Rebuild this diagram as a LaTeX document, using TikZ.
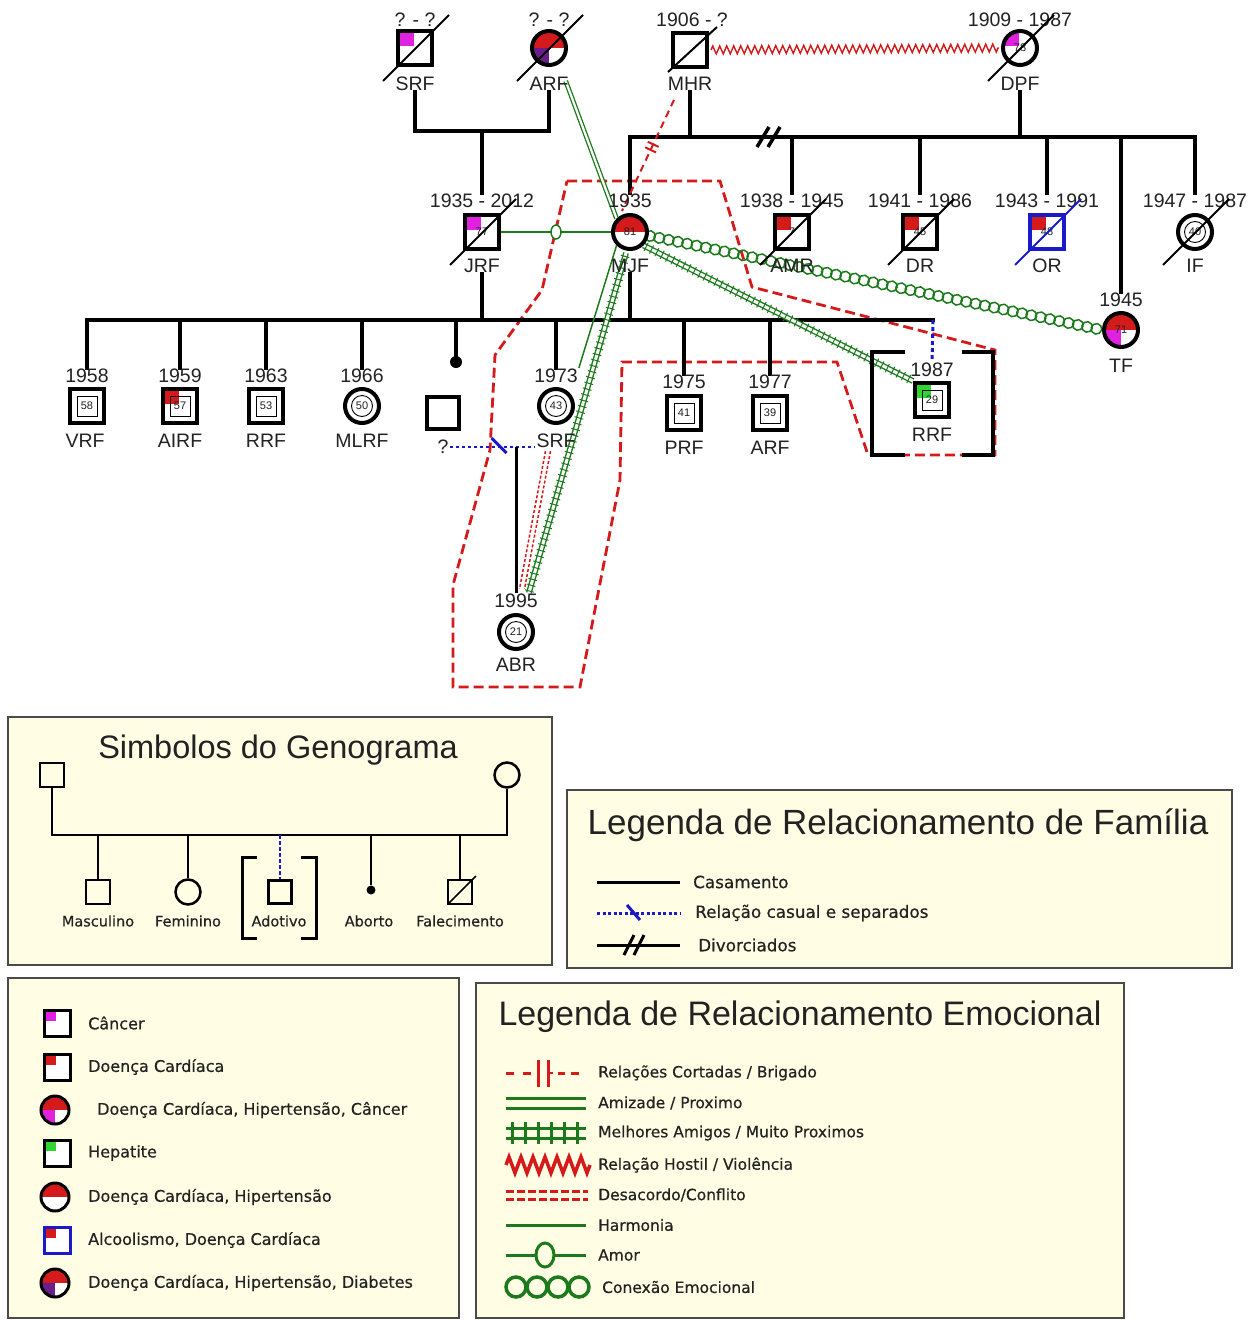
\documentclass[tikz,border=0pt]{standalone}
\usepackage{fontspec}
\setmainfont{Liberation Sans}
\newfontfamily\legfont[FakeBold=0.5]{DejaVu Sans}
\usetikzlibrary{decorations.pathmorphing,decorations.markings,calc,backgrounds}
\definecolor{gr}{HTML}{1C7A1C}
\definecolor{rd}{HTML}{D41A1A}
\definecolor{bl}{HTML}{1A1AC8}
\definecolor{mg}{HTML}{E022E0}
\definecolor{pu}{HTML}{6A1E8C}
\definecolor{hepc}{HTML}{2FD62F}
\definecolor{cream}{HTML}{FFFDE4}
\definecolor{bord}{HTML}{4A4A4A}
\definecolor{txt}{HTML}{222222}
\newcommand\myFr[1]{\draw[line width=0.9pt] ($(#1)+(-10,-10)$) rectangle ($(#1)+(10,10)$);}
\newcommand\myCf[1]{\draw[line width=0.9pt] (#1) circle (10.5pt);}
\newcommand\mySl[2][black]{\draw[#1,line width=2pt] ($(#2)+(-32,33)$) -- ($(#2)+(34,-33)$);}
\begin{document}
\begin{tikzpicture}[x=1pt,y=-1pt,
  every node/.style={text=txt},
  sq/.style={draw=black,fill=white,rectangle,line width=4pt,minimum size=34pt,inner sep=0pt,font=\fontsize{11}{11}\selectfont},
  ci/.style={draw=black,fill=white,circle,line width=4pt,minimum size=34pt,inner sep=0pt,font=\fontsize{11}{11}\selectfont},
  lab/.style={font=\fontsize{19.5}{20}\selectfont,inner sep=1pt},
  gline/.style={line width=4pt,line cap=rect},
  ppc/.style={path picture={\fill[#1] (path picture bounding box.north west) rectangle ++(16pt,-15pt);}},
  lpc/.style={path picture={\fill[#1] (path picture bounding box.north west) rectangle ++(12pt,-11pt);}},
  half/.style={path picture={\fill[rd] (path picture bounding box.north west) rectangle (path picture bounding box.east);}},
  trip/.style={path picture={\fill[rd] (path picture bounding box.north west) rectangle (path picture bounding box.east);\fill[#1] (path picture bounding box.west) rectangle (path picture bounding box.south);}},
  hostile/.style={draw=rd,line width=1.4pt,decorate,decoration={zigzag,amplitude=4pt,segment length=7pt}},
  cutl/.style={draw=rd,line width=2pt,dash pattern=on 7pt off 5pt},
  amiz/.style={draw=gr,double=white,double distance=2.2pt,line width=1.3pt},
  harm/.style={draw=gr,line width=1.5pt},
  best/.style={draw=gr,double=white,double distance=3pt,line width=1.4pt,postaction={decorate,decoration={markings,mark=between positions 0.01 and 1 step 6pt with {\draw[gr,line width=1pt,solid] (0pt,-4.5pt) -- (0pt,4.5pt);}}}},
  conn/.style={postaction={decorate,decoration={markings,mark=between positions 0 and 1 step 9.5pt with {\draw[gr,line width=1.5pt,solid] (0pt,0pt) circle (5.3pt);}}}},
  desac/.style={draw=rd,line width=1.5pt,dash pattern=on 3pt off 2pt},
  house/.style={draw=rd,line width=2.8pt,dash pattern=on 10pt off 5pt},
  casual/.style={draw=bl,line width=2.5pt,dash pattern=on 3pt off 3pt},
  legbox/.style={draw=bord,fill=cream,line width=2pt},
  lsq/.style={draw=black,rectangle,line width=3pt,minimum size=26pt,inner sep=0pt,fill=white},
  lci/.style={draw=black,circle,line width=3pt,minimum size=28pt,inner sep=0pt,fill=white},
  lsym/.style={draw=black,line width=2.5pt,minimum size=24pt,inner sep=0pt},
  ltx/.style={font=\legfont\fontsize{16}{18}\selectfont,anchor=west,inner sep=0pt},
  etx/.style={font=\legfont\fontsize{15.5}{17}\selectfont,anchor=west,inner sep=0pt},
  ftx/.style={font=\legfont\fontsize{16.8}{18}\selectfont,anchor=west,inner sep=0pt},
  stx/.style={font=\legfont\fontsize{14.5}{16}\selectfont,inner sep=0pt},
]
\useasboundingbox (0,0) rectangle (1255,1320);

% ================= persons: first generation
\node[sq,ppc=mg] (SRF) at (415,48) {};
\node[lab] (SRF-y) at (415,20) {? - ?};
\node[lab] (SRF-n) at (415,84) {SRF};
\node[ci,trip=pu] (ARF) at (549,48) {};
\node[lab] (ARF-y) at (549,20) {? - ?};
\node[lab] (ARF-n) at (549,84) {ARF};
\node[sq] (MHR) at (690,50) {};
\node[lab] (MHR-y) at (692,20) {1906 - ?};
\node[lab] (MHR-n) at (690,84) {MHR};
\node[ci,ppc=mg] (DPF) at (1020,48) {78};
\node[lab] (DPF-y) at (1020,20) {1909 - 1987};
\node[lab] (DPF-n) at (1020,84) {DPF};
\mySl{SRF} \mySl{ARF} \mySl{DPF}
\draw[line width=2pt] ($(MHR)+(-22,22)$) -- ($(MHR)+(27,-23)$);

% ================= second generation
\node[sq,ppc=mg] (JRF) at (482,232) {77};
\node[lab] (JRF-y) at (482,201) {1935 - 2012};
\node[lab] (JRF-n) at (482,266) {JRF};
\node[ci,half] (MJF) at (630,232) {81};
\node[lab] (MJF-y) at (630,201) {1935};
\node[lab] (MJF-n) at (630,266) {MJF};
\node[sq,ppc=rd] (AMR) at (792,232) {7};
\node[lab] (AMR-y) at (792,201) {1938 - 1945};
\node[lab] (AMR-n) at (792,266) {AMR};
\node[sq,ppc=rd] (DR) at (920,232) {45};
\node[lab] (DR-y) at (920,201) {1941 - 1986};
\node[lab] (DR-n) at (920,266) {DR};
\node[sq,ppc=rd,draw=bl] (OR) at (1047,232) {48};
\node[lab] (OR-y) at (1047,201) {1943 - 1991};
\node[lab] (OR-n) at (1047,266) {OR};
\node[ci] (IF) at (1195,232) {40};
\node[lab] (IF-y) at (1195,201) {1947 - 1987};
\node[lab] (IF-n) at (1195,266) {IF};
\node[ci,trip=mg] (TF) at (1121,330) {71};
\node[lab] (TF-y) at (1121,300) {1945};
\node[lab] (TF-n) at (1121,366) {TF};
\myCf{IF}
\mySl{JRF} \mySl{AMR} \mySl{DR} \mySl[bl]{OR} \mySl{IF}

% ================= third generation
\node[sq] (VRF) at (87,406) {58};
\node[lab] (VRF-y) at (87,376) {1958};
\node[lab] (VRF-n) at (85,441) {VRF};
\node[sq,ppc=rd] (AIRF) at (180,406) {57};
\node[lab] (AIRF-y) at (180,376) {1959};
\node[lab] (AIRF-n) at (180,441) {AIRF};
\node[sq] (RRF) at (266,406) {53};
\node[lab] (RRF-y) at (266,376) {1963};
\node[lab] (RRF-n) at (266,441) {RRF};
\node[ci] (MLRF) at (362,406) {50};
\node[lab] (MLRF-y) at (362,376) {1966};
\node[lab] (MLRF-n) at (362,441) {MLRF};
\node[ci] (SRF2) at (556,406) {43};
\node[lab] (SRF2-y) at (556,376) {1973};
\node[lab] (SRF2-n) at (556,441) {SRF};
\node[sq] (PRF) at (684,413) {41};
\node[lab] (PRF-y) at (684,382) {1975};
\node[lab] (PRF-n) at (684,448) {PRF};
\node[sq] (ARF2) at (770,413) {39};
\node[lab] (ARF2-y) at (770,382) {1977};
\node[lab] (ARF2-n) at (770,448) {ARF};
\node[sq,ppc=hepc] (RRF2) at (932,400) {29};
\node[lab] (RRF2-y) at (932,370) {1987};
\node[lab] (RRF2-n) at (932,435) {RRF};
\node[sq,minimum size=32pt] (Q) at (443,413) {};
\node[lab] (Q-n) at (443,447) {?};
\node[circle,fill=black,minimum size=12pt,inner sep=0pt] (AB) at (456,362) {};
\node[ci] (ABR) at (516,632) {21};
\node[lab] (ABR-y) at (516,601) {1995};
\node[lab] (ABR-n) at (516,665) {ABR};
\myFr{VRF} \myFr{AIRF} \myFr{RRF} \myFr{PRF} \myFr{ARF2} \myFr{RRF2}
\myCf{MLRF} \myCf{SRF2} \myCf{ABR}
% adoption brackets
\draw[line width=4pt] (905,352) -- (872,352) -- (872,455) -- (905,455);
\draw[line width=4pt] (962,352) -- (993,352) -- (993,455) -- (962,455);

% ================= connectors (behind)
\begin{pgfonlayer}{background}
\fill[white] (0,0) rectangle (1255,1320);
\draw[house] (567,181) -- (720,181) -- (752,287) -- (995,350) -- (995,455) -- (868,455) -- (837,362) -- (622,362) -- (620,480) -- (580,687) -- (453,687) -- (453,585) -- (490,450) -- (495,355) -- (542,290) -- cycle;
% family lines
\coordinate (p1) at (482,131);
\draw[gline] (SRF-n.south) |- (p1) -| (ARF-n.south);
\draw[gline] (p1) -- (JRF-y.north);
\coordinate (p2) at (630,137);
\coordinate (p3) at (1195,137);
\draw[gline] (p2) -- (p3);
\draw[gline] (MHR-n.south) -- (MHR-n.south |- p2);
\draw[gline] (DPF-n.south) -- (DPF-n.south |- p2);
\draw[gline] (p2) -- (MJF-y.north);
\foreach \k in {AMR,DR,OR,IF,TF} \draw[gline] (\k-y.north |- p2) -- (\k-y.north);
\draw[line width=3.5pt] (757,147) -- (769,127) (768,147) -- (780,127);
\coordinate (p4) at (87,320);
\coordinate (p5) at (933,320);
\draw[gline] (p4) -- (p5);
\draw[gline] (JRF-n.south) -- (JRF-n.south |- p4);
\draw[gline] (MJF-n.south) -- (MJF-n.south |- p4);
\foreach \k in {VRF,AIRF,RRF,MLRF,SRF2,PRF,ARF2} \draw[gline] (\k-y.north |- p4) -- (\k-y.north);
\draw[gline] (AB |- p4) -- (AB);
\draw[bl,line width=3pt,dash pattern=on 4pt off 3pt] (p5) -- (RRF2-y.north);
% casual relation and child
\draw[casual] (Q-n.east) -- (Q-n.east -| SRF2-n.west);
\draw[bl,line width=3pt] ($(Q-n.east)+(42,-9)$) -- ($(Q-n.east)+(57,6)$);
\coordinate (cs) at (ABR-y.north |- Q-n.east);
\draw[line width=3pt] (cs) -- (ABR-y.north);
% emotional relations
\draw[hostile] ([xshift=2pt]MHR.east) -- ([xshift=-2pt]DPF.west);
\draw[cutl,postaction={decorate,decoration={markings,
   mark=at position 0.40 with {\draw[rd,solid,line width=2pt] (0pt,-6pt) -- (0pt,6pt);},
   mark=at position 0.45 with {\draw[rd,solid,line width=2pt] (0pt,-6pt) -- (0pt,6pt);}}}]
   ($(MHR-n.south)+(-16,8)$) -- ($(MJF.north)+(-8,-2)$);
\draw[amiz] ($(ARF-n.east)+(-4,-3)$) -- (MJF.north west);
\draw[harm] (JRF.east) -- (MJF.west);
\draw[gr,line width=1.5pt,fill=white] ($(JRF.east)!0.5!(MJF.west)$) ellipse [x radius=5pt, y radius=7pt];
\path[conn] ($(MJF.east)+(1,4)$) -- (TF.west);
\draw[best] (MJF.south east) -- (RRF2.north west);
\draw[harm] (MJF.south west) -- (SRF2-y.north east);
\draw[best] ($(MJF.south)+(-4,2)$) -- ($(ABR-y.north east)+(-10,0)$);
\coordinate (d1) at ($(SRF2-n.south)+(-8,2)$);
\coordinate (d2) at ($(ABR-y.north)+(6,-4)$);
\draw[desac] ([xshift=-2.5pt]d1) -- ([xshift=-2.5pt]d2);
\draw[desac] ([xshift=2.5pt]d1) -- ([xshift=2.5pt]d2);
\end{pgfonlayer}

% ================= legend 1: symbols
\draw[legbox] (8,717) rectangle (552,965);
\node[font=\fontsize{32.5}{34}\selectfont] (T1) at (278,750) {Simbolos do Genograma};
\node[lsym,rectangle] (LF) at (52,775) {};
\node[lsym,circle,minimum size=25pt] (LM) at (507,775) {};
\coordinate (L0) at (52,835);
\draw[line width=2.5pt] (LF.south) -- (L0) -- (L0 -| LM.south) -- (LM.south);
\node[lsym,rectangle] (LC1) at (98,892) {};
\node[lsym,circle,minimum size=25pt] (LC2) at (188,892) {};
\node[lsym,rectangle,minimum size=23pt] (LC3) at (280,892) {};
\node[circle,fill=black,minimum size=9pt,inner sep=0pt] (LC4) at (371,890) {};
\node[lsym,rectangle] (LC5) at (460,892) {};
\draw[line width=2.5pt] (LC1.north |- L0) -- (LC1.north);
\draw[line width=2.5pt] (LC2.north |- L0) -- (LC2.north);
\draw[bl,line width=2.5pt,dash pattern=on 4pt off 2pt] (LC3.north |- L0) -- (LC3.north);
\draw[line width=2.5pt] (LC4 |- L0) -- (LC4);
\draw[line width=2.5pt] (LC5.north |- L0) -- (LC5.north);
\draw[line width=1.5pt] ($(LC5)+(-12,12)$) -- ($(LC5)+(16,-16)$);
\draw[line width=3pt] (257,857) -- (242,857) -- (242,938) -- (257,938);
\draw[line width=3pt] (301,857) -- (316,857) -- (316,938) -- (301,938);
\node[stx] (S1) at (98,921) {Masculino};
\node[stx] (S2) at (188,921) {Feminino};
\node[stx] (S3) at (279,921) {Adotivo};
\node[stx] (S4) at (369,921) {Aborto};
\node[stx] (S5) at (460,921) {Falecimento};

% ================= legend 2: family relations
\draw[legbox] (567,790) rectangle (1232,968);
\node[font=\fontsize{35}{37}\selectfont] (T2) at (898,825) {Legenda de Relacionamento de Família};
\draw[line width=3pt] (597,882) -- (680,882);
\node[ftx] (F1) at (693,882) {Casamento};
\draw[bl,line width=3pt,dash pattern=on 3pt off 2.5pt] (597,913) -- (680,913);
\draw[bl,line width=3pt] (627,905) -- (640,920);
\node[ftx] (F2) at (695,913) {Relação casual e separados};
\draw[line width=3pt] (597,945) -- (680,945);
\draw[line width=3pt] (624,955) -- (634,935) (634,955) -- (644,935);
\node[ftx] (F3) at (698,945) {Divorciados};

% ================= legend 3: diseases
\draw[legbox] (8,978) rectangle (459,1318);
\node[lsq,lpc=mg] (D1) at (57,1023) {};
\node[ltx] (D1t) at (88,1023) {Câncer};
\node[lsq,lpc=rd] (D2) at (57,1067) {};
\node[ltx] (D2t) at (88,1067) {Doença Cardíaca};
\node[lci,trip=mg] (D3) at (55,1110) {};
\node[ltx] (D3t) at (97,1110) {Doença Cardíaca, Hipertensão, Câncer};
\node[lsq,lpc=hepc] (D4) at (57,1153) {};
\node[ltx] (D4t) at (88,1153) {Hepatite};
\node[lci,half] (D5) at (55,1197) {};
\node[ltx] (D5t) at (88,1197) {Doença Cardíaca, Hipertensão};
\node[lsq,lpc=rd,draw=bl] (D6) at (57,1240) {};
\node[ltx] (D6t) at (88,1240) {Alcoolismo, Doença Cardíaca};
\node[lci,trip=pu] (D7) at (55,1283) {};
\node[ltx] (D7t) at (88,1283) {Doença Cardíaca, Hipertensão, Diabetes};

% ================= legend 4: emotional relations
\draw[legbox] (476,983) rectangle (1124,1318);
\node[font=\fontsize{34}{36}\selectfont] (T4) at (800,1017) {Legenda de Relacionamento Emocional};
\draw[rd,line width=3pt] (506,1073) -- (514,1073) (523,1073) -- (531,1073) (558,1073) -- (565,1073) (571,1073) -- (579,1073);
\draw[rd,line width=3pt] (538,1060) -- (538,1087) (548,1060) -- (548,1087);
\draw[rd,line width=2.5pt] (548,1073) -- (553,1073);
\node[etx] (E1) at (598,1073) {Relações Cortadas / Brigado};
\draw[gr,line width=3pt] (506,1098) -- (586,1098) (506,1108) -- (586,1108);
\node[etx] (E2) at (598,1103) {Amizade / Proximo};
\draw[gr,line width=3pt] (506,1128) -- (586,1128) (506,1138) -- (586,1138);
\foreach \xx in {512,525,538,551,564,577} \draw[gr,line width=3pt] (\xx,1122) -- (\xx,1144);
\node[etx] (E3) at (598,1133) {Melhores Amigos / Muito Proximos};
\draw[rd,line width=3.5pt,decorate,decoration={zigzag,amplitude=8pt,segment length=12pt}] (506,1165) -- (590,1165);
\node[etx] (E4) at (598,1165) {Relação Hostil / Violência};
\draw[rd,line width=3pt,dash pattern=on 8pt off 3pt] (506,1191) -- (588,1191) (506,1199) -- (588,1199);
\node[etx] (E5) at (598,1195) {Desacordo/Conflito};
\draw[gr,line width=3pt] (506,1225) -- (586,1225);
\node[etx] (E6) at (598,1225) {Harmonia};
\draw[gr,line width=3pt] (506,1255) -- (586,1255);
\draw[gr,line width=3pt,fill=cream] (545,1255) ellipse [x radius=9pt, y radius=12pt];
\node[etx] (E7) at (598,1255) {Amor};
\foreach \xx in {516,537,558,579} \draw[gr,line width=3.5pt] (\xx,1287) circle (10pt);
\node[etx] (E8) at (602,1287) {Conexão Emocional};
\end{tikzpicture}
\end{document}
